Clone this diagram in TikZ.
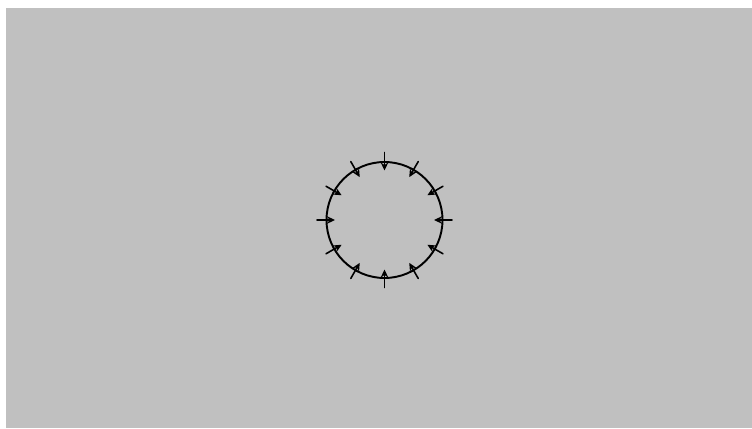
\documentclass[tikz,border=0pt]{standalone}
\usepackage{tikz}
\usetikzlibrary{arrows.meta,calc}
\definecolor{bggray}{RGB}{192,192,192}

\begin{document}
\begin{tikzpicture}[line cap=round, line join=round, >={Stealth[length=1.6mm,width=1.5mm]}]
    % page and grey field
    \fill[white] (0,0) rectangle (15.04,8.56);
    \fill[bggray] (0.12,0) rectangle (15.04,8.40);

    \coordinate (C) at (7.69,4.16);

    \draw[line width=1.1pt] (C) circle (1.16);

    % inward pressure arrows
    \foreach \a in {0,30,...,330} {
        \coordinate (out\a) at ($(C)+(\a:1.35)$);
        \coordinate (in\a)  at ($(C)+(\a:0.99)$);
        \draw[->, line width=0.9pt] (out\a) -- (in\a);
    }
\end{tikzpicture}
\end{document}
